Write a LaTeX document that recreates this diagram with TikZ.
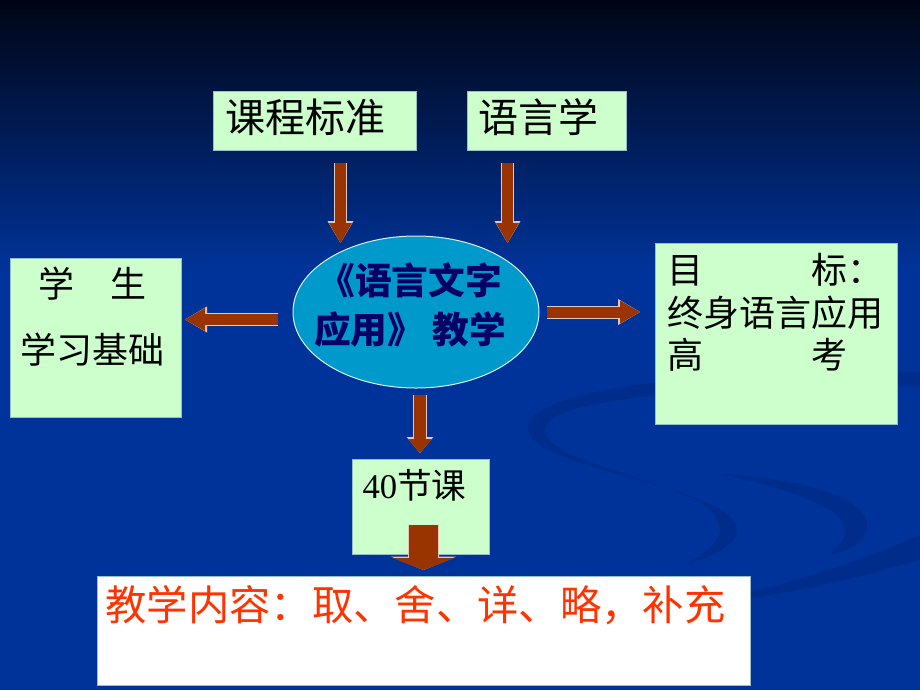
\documentclass[tikz,border=0pt]{standalone}
\usepackage{fontspec}
\setmainfont{Liberation Serif}
\newfontfamily\cjk{Noto Sans CJK SC}
\usetikzlibrary{shapes.geometric,arrows.meta}

\definecolor{bgtop}{RGB}{0,5,20}
\definecolor{bgbot}{RGB}{0,51,153}
\definecolor{swirlc}{RGB}{0,36,120}
\definecolor{boxgreen}{RGB}{204,255,204}
\definecolor{boxline}{RGB}{150,190,200}
\definecolor{ellfill}{RGB}{0,153,204}
\definecolor{elltext}{RGB}{0,0,102}
\definecolor{arrowred}{RGB}{153,51,0}
\definecolor{arrowedge}{RGB}{225,200,190}
\definecolor{redtext}{RGB}{255,51,0}

\tikzset{
  gbox/.style={draw=boxline, fill=boxgreen, line width=0.75pt, inner sep=0pt},
  txt/.style={inner sep=0pt, font=\cjk\fontsize{30}{36}\selectfont},
  swirl/.style={fill=swirlc, fill opacity=0.4},
  % shaft, tip width, tip length, then the same for the light edge
  barrow/.style n args={6}{draw=arrowred, line width=#1,
    -{Triangle[width=#2,length=#3,line width=0pt]},
    preaction={draw=arrowedge, line width=#4,
      -{Triangle[width=#5,length=#6,line width=0pt]}}}
}

\begin{document}
\begin{tikzpicture}[x=0.75pt,y=-0.75pt]
  \useasboundingbox (0,0) rectangle (920,690);
  % background
  \fill[bgbot] (0,0) rectangle (920,690);
  \shade[top color=bgtop, bottom color=bgbot] (0,0) rectangle (920,270);
  \fill[swirl] (920,372) .. controls (700,368) and (520,390) .. (528,430)
    .. controls (538,470) and (700,480) .. (735,522)
    .. controls (745,540) and (720,556) .. (680,565)
    .. controls (725,548) and (732,522) .. (700,502)
    .. controls (640,472) and (556,462) .. (545,432)
    .. controls (536,400) and (700,384) .. (920,386) -- cycle;
  \fill[swirl] (720,474) .. controls (800,478) and (872,498) .. (867,528)
    .. controls (864,545) and (845,552) .. (827,555)
    .. controls (850,540) and (855,520) .. (820,505)
    .. controls (790,490) and (750,480) .. (720,474) -- cycle;
  \fill[swirl] (750,592) .. controls (820,575) and (870,556) .. (920,535)
    -- (920,560) .. controls (870,574) and (820,588) .. (750,598) -- cycle;

  % boxes
  \node[gbox, minimum width=152.25pt, minimum height=44.25pt] (kcbz) at (314.5,120.5) {};
  \node[gbox, minimum width=119.25pt, minimum height=44.25pt] (yyx) at (546.5,120.5) {};
  \node[ellipse, draw=white!85!ellfill, fill=ellfill, line width=0.75pt,
        minimum width=184.5pt, minimum height=114pt] (jx) at (416,312) {};
  \node[gbox, minimum width=128.25pt, minimum height=119.25pt] (xs) at (95.5,337.5) {};
  \node[gbox, minimum width=181.5pt, minimum height=135.75pt] (mb) at (776,333.5) {};
  \node[gbox, minimum width=102.75pt, minimum height=71.25pt] (kc) at (420.5,506.5) {};
  \node[draw=boxline, fill=white, line width=0.75pt, inner sep=0pt,
        minimum width=489.75pt, minimum height=81.75pt] (nr) at (423.5,630.5) {};

  % texts
  \node[txt] (kcbzT) at (305,117) {课程标准};
  \node[txt] (yyxT)  at (538,117) {语言学};
  \node[txt, text=elltext, align=center, font=\cjk\bfseries\fontsize{27.5}{36.75}\selectfont]
       (jxT) at (410,305.5) {《语言文字\\应用》 教学};
  \node[txt, font=\cjk\fontsize{27}{32}\selectfont] (xsT1) at (92,284) {学　生};
  \node[txt, font=\cjk\fontsize{27}{32}\selectfont] (xsT2) at (92.5,350) {学习基础};
  \node[txt, anchor=north west, align=left, font=\cjk\fontsize{27}{32}\selectfont]
       (mbT) at (667,253) {目　　　标：\\终身语言应用\\高　　　考};
  \node[txt, font=\fontsize{26}{30}\selectfont] (kcT) at (414.5,485) {40{\cjk 节课}};
  \node[txt, text=redtext, font=\cjk\fontsize{31}{36}\selectfont] (nrT) at (415.5,605)
       {教学内容：取、舍、详、略，补充};

  % arrows
  \coordinate (a1s) at (340.5,163); \coordinate (a1e) at (340.5,243);
  \coordinate (a2s) at (507.5,163); \coordinate (a2e) at (507.5,243);
  \coordinate (a3s) at (278,319.5); \coordinate (a3e) at (185,319.5);
  \coordinate (a4s) at (547,312);   \coordinate (a4e) at (640,312);
  \coordinate (a5s) at (420,395);   \coordinate (a5e) at (420,453);
  \coordinate (a6s) at (423.5,525); \coordinate (a6e) at (423.5,570);
  \draw[barrow={8.25pt}{17.25pt}{15pt}{9.75pt}{19.5pt}{16.5pt}] (a1s) -- (a1e);
  \draw[barrow={8.25pt}{17.25pt}{15pt}{9.75pt}{19.5pt}{16.5pt}] (a2s) -- (a2e);
  \draw[barrow={8.25pt}{17.25pt}{15pt}{9.75pt}{19.5pt}{16.5pt}] (a3s) -- (a3e);
  \draw[barrow={8.25pt}{17.25pt}{15pt}{9.75pt}{19.5pt}{16.5pt}] (a4s) -- (a4e);
  \draw[barrow={9pt}{18pt}{10.5pt}{10.5pt}{20pt}{12pt}] (a5s) -- (a5e);
  \draw[barrow={21.75pt}{46.5pt}{9pt}{23.25pt}{48.5pt}{10pt}] (a6s) -- (a6e);
\end{tikzpicture}
\end{document}
